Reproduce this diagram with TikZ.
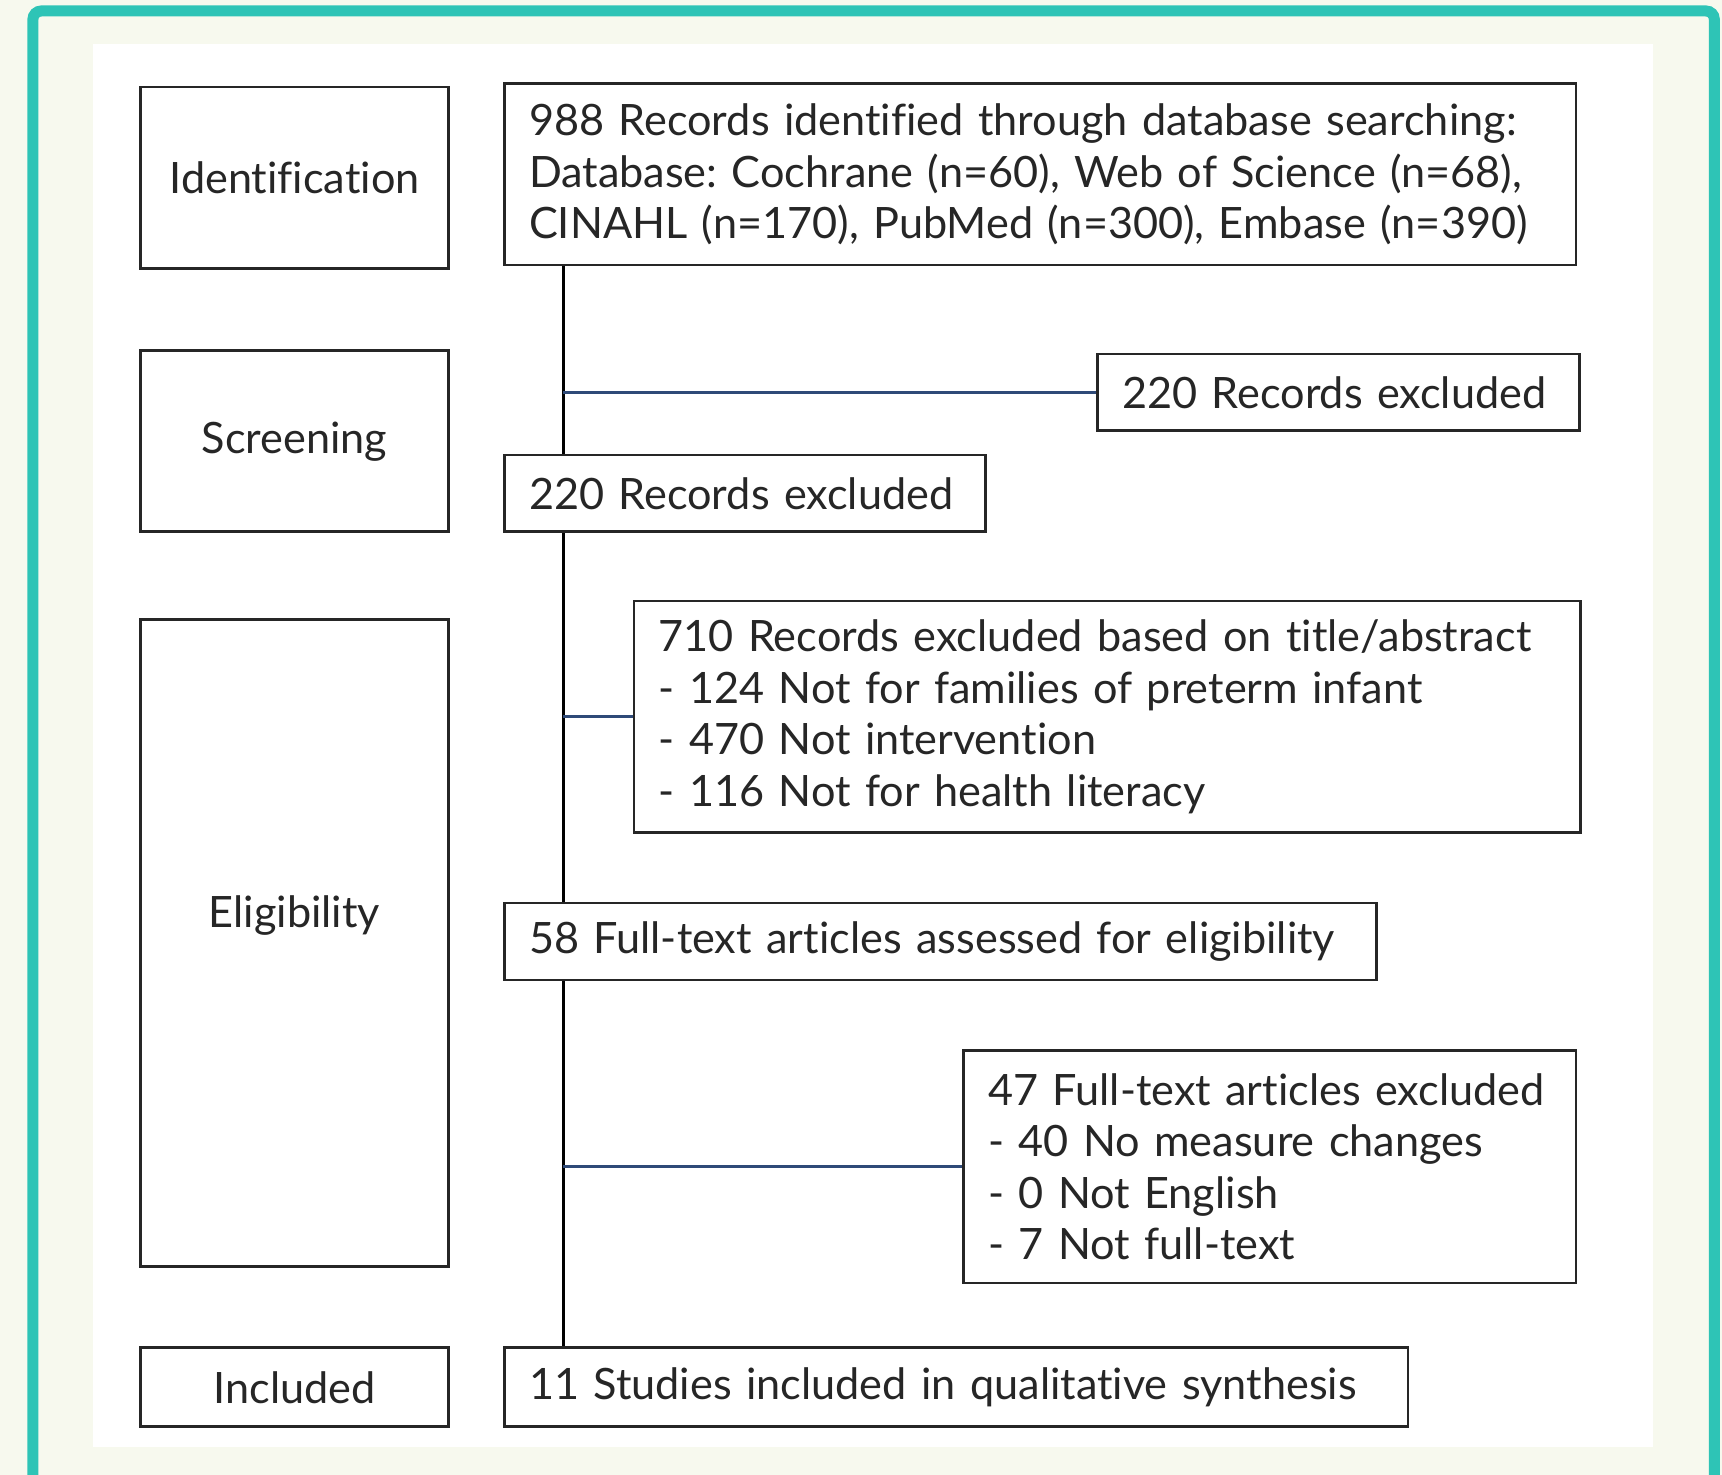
\documentclass[tikz,border=0pt]{standalone}
\usepackage{fontspec}
\setmainfont{Lato}[Ligatures=NoCommon]
\usepackage{tikz}
\usetikzlibrary{
	positioning,
	calc
}
\usepackage{xcolor}
\definecolor{framegreen}{HTML}{2EC4B6}
\definecolor{paper}{HTML}{F7F9EE}
\definecolor{linkblue}{HTML}{2F4A78}
\frenchspacing

\begin{document}
\begin{tikzpicture}[x=0.02cm,y=-0.02cm,
		box/.style={draw=black!85,line width=1.4pt,fill=white,inner xsep=0.45cm,inner ysep=0pt,
			text=black!85,font=\fontsize{22.4}{26.7}\selectfont},
		stage/.style={box,align=center,minimum width=5.6cm},
		flow/.style={box,anchor=north west,align=left},
		trunk/.style={line width=1.7pt,black},
		branch/.style={line width=1.7pt,linkblue}]
		
		% canvas and frame
		\useasboundingbox (0,0) rectangle (1568,1343);
		\fill[paper] (0,0) rectangle (1568,1343);
		\draw[framegreen,line width=0.2cm,rounded corners=0.15cm] (30,10) rectangle (1561,1360);
		\fill[white] (85,40) rectangle (1505,1318);
		
		% stages on the left
		\node[stage,anchor=north west,minimum height=3.3cm] (ident) at (127,78) {Identification};
		\node[stage,anchor=north west,minimum height=3.3cm] (screen) at (127,318) {Screening};
		\node[stage,anchor=north west,minimum height=11.78cm] (elig) at (127,563) {};
		\node[box,draw=none,fill=none] (eligtext) at ([yshift=0.5cm]elig.center) {Eligibility};
		\node[stage,anchor=north west,minimum height=1.44cm] (incl) at (127,1226) {Included};
		
		% main flow
		\node[flow,minimum height=3.3cm,text width=18.62cm] (rec) at (458,75)
			{988 Records identified through database searching:\\
			Database: Cochrane (n=60), Web of Science (n=68),\\
			CINAHL (n=170), PubMed (n=300), Embase (n=390)};
		\node[flow,minimum height=1.4cm,text width=7.88cm] (dup) at (998,321) {220 Records excluded};
		\node[flow,minimum height=1.4cm,text width=7.86cm] (screened) at (458,413) {220 Records excluded};
		\node[flow,minimum height=4.22cm,text width=16.34cm] (abs) at (576,546)
			{710 Records excluded based on title/abstract\\
			- 124 Not for families of preterm infant\\
			- 470 Not intervention\\
			- 116 Not for health literacy};
		\node[flow,minimum height=1.4cm,text width=14.98cm] (full) at (458,821) {58 Full-text articles assessed for eligibility};
		\node[flow,minimum height=4.24cm,text width=10.26cm] (fexcl) at (876,955)
			{47 Full-text articles excluded\\
			- 40 No measure changes\\
			- 0 Not English\\
			- 7 Not full-text};
		\node[flow,minimum height=1.44cm,text width=15.56cm] (final) at (458,1226) {11 Studies included in qualitative synthesis};
		
		% connectors
		\coordinate (spine) at (513,0);
		\draw[trunk] (rec.south -| spine) -- (screened.north -| spine);
		\draw[trunk] (screened.south -| spine) -- (full.north -| spine);
		\draw[trunk] (full.south -| spine) -- (final.north -| spine);
		\draw[branch] (dup.west -| spine) -- (dup.west);
		\draw[branch] (abs.west -| spine) -- (abs.west);
		\draw[branch] (fexcl.west -| spine) -- (fexcl.west);
		
	\end{tikzpicture}
\end{document}
